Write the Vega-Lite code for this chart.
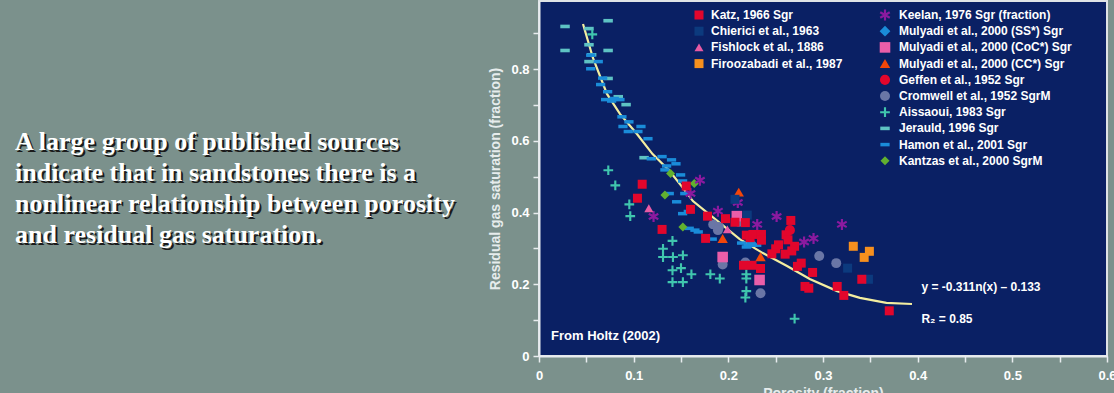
{
  "$schema": "https://vega.github.io/schema/vega-lite/v6.json",
  "background": "#7b918c",
  "padding": 0,
  "spacing": 0,
  "bounds": "flush",
  "config": {
    "font": "Liberation Sans",
    "view": {"stroke": null},
    "axis": {
      "grid": false,
      "domainColor": "#e8ecef",
      "domainWidth": 2,
      "tickColor": "#e8ecef",
      "tickWidth": 1.5,
      "tickSize": 6,
      "labelColor": "#ffffff",
      "labelFont": "Liberation Sans",
      "labelFontWeight": "bold",
      "labelFontSize": 13,
      "titleColor": "#e6ecec",
      "titleFont": "Liberation Sans",
      "titleFontWeight": "bold",
      "titleFontSize": 14
    },
    "legend": {
      "labelColor": "#ffffff",
      "labelFont": "Liberation Sans",
      "labelFontWeight": "bold",
      "labelFontSize": 12,
      "labelLimit": 400,
      "symbolSize": 64,
      "symbolStrokeWidth": 0,
      "rowPadding": 4.2,
      "padding": 0
    }
  },
  "datasets": {
    "para": [
      {"t": "A large group of published sources", "ln": 1, "c": 0},
      {"t": "indicate that in sandstones there is a", "ln": 2, "c": 0},
      {"t": "nonlinear relationship between porosity", "ln": 3, "c": 0},
      {"t": "and residual gas saturation.", "ln": 4, "c": 0}
    ],
    "curve": [
      {"x": 0.0465, "y": 0.926}, {"x": 0.057, "y": 0.831}, {"x": 0.0718, "y": 0.731},
      {"x": 0.0855, "y": 0.675}, {"x": 0.1035, "y": 0.619}, {"x": 0.12, "y": 0.563},
      {"x": 0.138, "y": 0.516}, {"x": 0.152, "y": 0.469}, {"x": 0.1626, "y": 0.432},
      {"x": 0.191, "y": 0.371}, {"x": 0.212, "y": 0.326}, {"x": 0.2365, "y": 0.287},
      {"x": 0.262, "y": 0.251}, {"x": 0.286, "y": 0.215}, {"x": 0.315, "y": 0.181},
      {"x": 0.339, "y": 0.162}, {"x": 0.367, "y": 0.148}, {"x": 0.394, "y": 0.145}
    ],
    "pts": [
      {"s": "Jerauld, 1996 Sgr", "x": 0.0275, "y": 0.919},
      {"s": "Jerauld, 1996 Sgr", "x": 0.073, "y": 0.935},
      {"s": "Jerauld, 1996 Sgr", "x": 0.0528, "y": 0.913},
      {"s": "Jerauld, 1996 Sgr", "x": 0.0275, "y": 0.852},
      {"s": "Jerauld, 1996 Sgr", "x": 0.073, "y": 0.852},
      {"s": "Jerauld, 1996 Sgr", "x": 0.0528, "y": 0.868},
      {"s": "Jerauld, 1996 Sgr", "x": 0.0556, "y": 0.84},
      {"s": "Jerauld, 1996 Sgr", "x": 0.0528, "y": 0.821},
      {"s": "Jerauld, 1996 Sgr", "x": 0.073, "y": 0.774},
      {"s": "Jerauld, 1996 Sgr", "x": 0.0837, "y": 0.723},
      {"s": "Jerauld, 1996 Sgr", "x": 0.092, "y": 0.701},
      {"s": "Jerauld, 1996 Sgr", "x": 0.111, "y": 0.553},
      {"s": "Hamon et al., 2001 Sgr", "x": 0.0546, "y": 0.839},
      {"s": "Hamon et al., 2001 Sgr", "x": 0.0626, "y": 0.821},
      {"s": "Hamon et al., 2001 Sgr", "x": 0.0546, "y": 0.801},
      {"s": "Hamon et al., 2001 Sgr", "x": 0.0672, "y": 0.775},
      {"s": "Hamon et al., 2001 Sgr", "x": 0.0651, "y": 0.757},
      {"s": "Hamon et al., 2001 Sgr", "x": 0.0725, "y": 0.737},
      {"s": "Hamon et al., 2001 Sgr", "x": 0.0704, "y": 0.715},
      {"s": "Hamon et al., 2001 Sgr", "x": 0.0795, "y": 0.718},
      {"s": "Hamon et al., 2001 Sgr", "x": 0.0855, "y": 0.715},
      {"s": "Hamon et al., 2001 Sgr", "x": 0.0767, "y": 0.711},
      {"s": "Hamon et al., 2001 Sgr", "x": 0.0876, "y": 0.667},
      {"s": "Hamon et al., 2001 Sgr", "x": 0.095, "y": 0.653},
      {"s": "Hamon et al., 2001 Sgr", "x": 0.0887, "y": 0.64},
      {"s": "Hamon et al., 2001 Sgr", "x": 0.1077, "y": 0.64},
      {"s": "Hamon et al., 2001 Sgr", "x": 0.0943, "y": 0.626},
      {"s": "Hamon et al., 2001 Sgr", "x": 0.1045, "y": 0.626},
      {"s": "Hamon et al., 2001 Sgr", "x": 0.1151, "y": 0.606},
      {"s": "Hamon et al., 2001 Sgr", "x": 0.1186, "y": 0.55},
      {"s": "Hamon et al., 2001 Sgr", "x": 0.13, "y": 0.556},
      {"s": "Hamon et al., 2001 Sgr", "x": 0.14, "y": 0.547},
      {"s": "Hamon et al., 2001 Sgr", "x": 0.1447, "y": 0.536},
      {"s": "Hamon et al., 2001 Sgr", "x": 0.1348, "y": 0.53},
      {"s": "Hamon et al., 2001 Sgr", "x": 0.133, "y": 0.519},
      {"s": "Hamon et al., 2001 Sgr", "x": 0.1496, "y": 0.505},
      {"s": "Hamon et al., 2001 Sgr", "x": 0.1517, "y": 0.488},
      {"s": "Hamon et al., 2001 Sgr", "x": 0.1376, "y": 0.453},
      {"s": "Hamon et al., 2001 Sgr", "x": 0.154, "y": 0.453},
      {"s": "Hamon et al., 2001 Sgr", "x": 0.1454, "y": 0.43},
      {"s": "Hamon et al., 2001 Sgr", "x": 0.1517, "y": 0.397},
      {"s": "Hamon et al., 2001 Sgr", "x": 0.1577, "y": 0.403},
      {"s": "Hamon et al., 2001 Sgr", "x": 0.1587, "y": 0.356},
      {"s": "Hamon et al., 2001 Sgr", "x": 0.1647, "y": 0.351},
      {"s": "Hamon et al., 2001 Sgr", "x": 0.1682, "y": 0.346},
      {"s": "Hamon et al., 2001 Sgr", "x": 0.183, "y": 0.326},
      {"s": "Hamon et al., 2001 Sgr", "x": 0.214, "y": 0.315},
      {"s": "Hamon et al., 2001 Sgr", "x": 0.219, "y": 0.304},
      {"s": "Hamon et al., 2001 Sgr", "x": 0.221, "y": 0.309},
      {"s": "Hamon et al., 2001 Sgr", "x": 0.226, "y": 0.309},
      {"s": "Hamon et al., 2001 Sgr", "x": 0.23, "y": 0.309},
      {"s": "Aissaoui, 1983 Sgr", "x": 0.0563, "y": 0.897},
      {"s": "Aissaoui, 1983 Sgr", "x": 0.0732, "y": 0.518},
      {"s": "Aissaoui, 1983 Sgr", "x": 0.0806, "y": 0.476},
      {"s": "Aissaoui, 1983 Sgr", "x": 0.0954, "y": 0.423},
      {"s": "Aissaoui, 1983 Sgr", "x": 0.0964, "y": 0.39},
      {"s": "Aissaoui, 1983 Sgr", "x": 0.141, "y": 0.321},
      {"s": "Aissaoui, 1983 Sgr", "x": 0.131, "y": 0.299},
      {"s": "Aissaoui, 1983 Sgr", "x": 0.131, "y": 0.276},
      {"s": "Aissaoui, 1983 Sgr", "x": 0.1415, "y": 0.276},
      {"s": "Aissaoui, 1983 Sgr", "x": 0.152, "y": 0.281},
      {"s": "Aissaoui, 1983 Sgr", "x": 0.141, "y": 0.239},
      {"s": "Aissaoui, 1983 Sgr", "x": 0.15, "y": 0.245},
      {"s": "Aissaoui, 1983 Sgr", "x": 0.161, "y": 0.228},
      {"s": "Aissaoui, 1983 Sgr", "x": 0.141, "y": 0.206},
      {"s": "Aissaoui, 1983 Sgr", "x": 0.152, "y": 0.206},
      {"s": "Aissaoui, 1983 Sgr", "x": 0.181, "y": 0.228},
      {"s": "Aissaoui, 1983 Sgr", "x": 0.191, "y": 0.216},
      {"s": "Aissaoui, 1983 Sgr", "x": 0.219, "y": 0.228},
      {"s": "Aissaoui, 1983 Sgr", "x": 0.219, "y": 0.216},
      {"s": "Aissaoui, 1983 Sgr", "x": 0.219, "y": 0.181},
      {"s": "Aissaoui, 1983 Sgr", "x": 0.218, "y": 0.163},
      {"s": "Aissaoui, 1983 Sgr", "x": 0.27, "y": 0.104},
      {"s": "Cromwell et al., 1952 SgrM", "x": 0.184, "y": 0.367},
      {"s": "Cromwell et al., 1952 SgrM", "x": 0.19, "y": 0.36},
      {"s": "Cromwell et al., 1952 SgrM", "x": 0.189, "y": 0.351},
      {"s": "Cromwell et al., 1952 SgrM", "x": 0.2115, "y": 0.374},
      {"s": "Cromwell et al., 1952 SgrM", "x": 0.194, "y": 0.255},
      {"s": "Cromwell et al., 1952 SgrM", "x": 0.218, "y": 0.261},
      {"s": "Cromwell et al., 1952 SgrM", "x": 0.234, "y": 0.175},
      {"s": "Cromwell et al., 1952 SgrM", "x": 0.296, "y": 0.279},
      {"s": "Cromwell et al., 1952 SgrM", "x": 0.314, "y": 0.259},
      {"s": "Kantzas et al., 2000 SgrM", "x": 0.139, "y": 0.509},
      {"s": "Kantzas et al., 2000 SgrM", "x": 0.164, "y": 0.481},
      {"s": "Kantzas et al., 2000 SgrM", "x": 0.133, "y": 0.449},
      {"s": "Kantzas et al., 2000 SgrM", "x": 0.152, "y": 0.36},
      {"s": "Keelan, 1976 Sgr (fraction)", "x": 0.17, "y": 0.49},
      {"s": "Keelan, 1976 Sgr (fraction)", "x": 0.16, "y": 0.453},
      {"s": "Keelan, 1976 Sgr (fraction)", "x": 0.121, "y": 0.389},
      {"s": "Keelan, 1976 Sgr (fraction)", "x": 0.189, "y": 0.404},
      {"s": "Keelan, 1976 Sgr (fraction)", "x": 0.21, "y": 0.428},
      {"s": "Keelan, 1976 Sgr (fraction)", "x": 0.2305, "y": 0.367},
      {"s": "Keelan, 1976 Sgr (fraction)", "x": 0.251, "y": 0.389},
      {"s": "Keelan, 1976 Sgr (fraction)", "x": 0.28, "y": 0.318},
      {"s": "Keelan, 1976 Sgr (fraction)", "x": 0.29, "y": 0.328},
      {"s": "Keelan, 1976 Sgr (fraction)", "x": 0.32, "y": 0.367},
      {"s": "Mulyadi et al., 2000 (SS*) Sgr", "x": 0.224, "y": 0.315},
      {"s": "Mulyadi et al., 2000 (CoC*) Sgr", "x": 0.209, "y": 0.39},
      {"s": "Mulyadi et al., 2000 (CoC*) Sgr", "x": 0.194, "y": 0.276},
      {"s": "Mulyadi et al., 2000 (CoC*) Sgr", "x": 0.233, "y": 0.212},
      {"s": "Mulyadi et al., 2000 (CC*) Sgr", "x": 0.211, "y": 0.457},
      {"s": "Mulyadi et al., 2000 (CC*) Sgr", "x": 0.194, "y": 0.328},
      {"s": "Mulyadi et al., 2000 (CC*) Sgr", "x": 0.234, "y": 0.277},
      {"s": "Geffen et al., 1952 Sgr", "x": 0.265, "y": 0.351},
      {"s": "Chierici et al., 1963", "x": 0.207, "y": 0.437},
      {"s": "Chierici et al., 1963", "x": 0.22, "y": 0.393},
      {"s": "Chierici et al., 1963", "x": 0.326, "y": 0.245},
      {"s": "Chierici et al., 1963", "x": 0.348, "y": 0.214},
      {"s": "Katz, 1966 Sgr", "x": 0.109, "y": 0.479},
      {"s": "Katz, 1966 Sgr", "x": 0.104, "y": 0.44},
      {"s": "Katz, 1966 Sgr", "x": 0.1555, "y": 0.474},
      {"s": "Katz, 1966 Sgr", "x": 0.16, "y": 0.409},
      {"s": "Katz, 1966 Sgr", "x": 0.13, "y": 0.353},
      {"s": "Katz, 1966 Sgr", "x": 0.178, "y": 0.39},
      {"s": "Katz, 1966 Sgr", "x": 0.197, "y": 0.383},
      {"s": "Katz, 1966 Sgr", "x": 0.176, "y": 0.328},
      {"s": "Katz, 1966 Sgr", "x": 0.207, "y": 0.373},
      {"s": "Katz, 1966 Sgr", "x": 0.216, "y": 0.253},
      {"s": "Katz, 1966 Sgr", "x": 0.219, "y": 0.337},
      {"s": "Katz, 1966 Sgr", "x": 0.218, "y": 0.372},
      {"s": "Katz, 1966 Sgr", "x": 0.223, "y": 0.33},
      {"s": "Katz, 1966 Sgr", "x": 0.226, "y": 0.339},
      {"s": "Katz, 1966 Sgr", "x": 0.235, "y": 0.339},
      {"s": "Katz, 1966 Sgr", "x": 0.235, "y": 0.323},
      {"s": "Katz, 1966 Sgr", "x": 0.225, "y": 0.253},
      {"s": "Katz, 1966 Sgr", "x": 0.234, "y": 0.244},
      {"s": "Katz, 1966 Sgr", "x": 0.266, "y": 0.378},
      {"s": "Katz, 1966 Sgr", "x": 0.261, "y": 0.338},
      {"s": "Katz, 1966 Sgr", "x": 0.263, "y": 0.324},
      {"s": "Katz, 1966 Sgr", "x": 0.253, "y": 0.31},
      {"s": "Katz, 1966 Sgr", "x": 0.27, "y": 0.306},
      {"s": "Katz, 1966 Sgr", "x": 0.25, "y": 0.299},
      {"s": "Katz, 1966 Sgr", "x": 0.246, "y": 0.285},
      {"s": "Katz, 1966 Sgr", "x": 0.26, "y": 0.284},
      {"s": "Katz, 1966 Sgr", "x": 0.267, "y": 0.293},
      {"s": "Katz, 1966 Sgr", "x": 0.277, "y": 0.259},
      {"s": "Katz, 1966 Sgr", "x": 0.273, "y": 0.25},
      {"s": "Katz, 1966 Sgr", "x": 0.289, "y": 0.233},
      {"s": "Katz, 1966 Sgr", "x": 0.281, "y": 0.194},
      {"s": "Katz, 1966 Sgr", "x": 0.285, "y": 0.189},
      {"s": "Katz, 1966 Sgr", "x": 0.315, "y": 0.194},
      {"s": "Katz, 1966 Sgr", "x": 0.322, "y": 0.169},
      {"s": "Katz, 1966 Sgr", "x": 0.341, "y": 0.214},
      {"s": "Katz, 1966 Sgr", "x": 0.37, "y": 0.126},
      {"s": "Fishlock et al., 1886", "x": 0.116, "y": 0.412},
      {"s": "Fishlock et al., 1886", "x": 0.199, "y": 0.353},
      {"s": "Firoozabadi et al., 1987", "x": 0.332, "y": 0.306},
      {"s": "Firoozabadi et al., 1987", "x": 0.349, "y": 0.292},
      {"s": "Firoozabadi et al., 1987", "x": 0.3435, "y": 0.275}
    ],
    "notes13": [
      {"t": "From Holtz (2002)", "x": 0.0127, "y": 0.045}
    ],
    "notes12": [
      {"t": "y = -0.311n(x) – 0.133", "x": 0.404, "y": 0.192},
      {"t": "R₂ = 0.85", "x": 0.404, "y": 0.103}
    ]
  },
  "hconcat": [
    {
      "width": 539,
      "height": 355,
      "view": {"stroke": null},
      "data": {"name": "para"},
      "layer": [
        {
          "mark": {"type": "text", "font": "Liberation Serif", "fontWeight": "bold", "fontSize": 26, "align": "left", "baseline": "alphabetic", "color": "#1a1a1a", "dx": 2, "dy": 2},
          "encoding": {
            "x": {"field": "c", "type": "quantitative", "scale": {"domain": [-15, 524]}, "axis": null},
            "y": {"field": "ln", "type": "quantitative", "scale": {"domain": [-3.781, 7.634], "reverse": true}, "axis": null},
            "text": {"field": "t"}
          }
        },
        {
          "mark": {"type": "text", "font": "Liberation Serif", "fontWeight": "bold", "fontSize": 26, "align": "left", "baseline": "alphabetic", "color": "#ffffff"},
          "encoding": {
            "x": {"field": "c", "type": "quantitative", "scale": {"domain": [-15, 524]}, "axis": null},
            "y": {"field": "ln", "type": "quantitative", "scale": {"domain": [-3.781, 7.634], "reverse": true}, "axis": null},
            "text": {"field": "t"}
          }
        }
      ]
    },
    {
      "width": 568,
      "height": 355,
      "view": {"fill": "#0a2064", "stroke": "#dfe3e6", "strokeWidth": 2},
      "encoding": {
        "x": {
          "field": "x", "type": "quantitative",
          "scale": {"domain": [0, 0.6], "nice": false, "zero": false},
          "axis": {
            "title": "Porosity (fraction)",
            "values": [0, 0.05, 0.1, 0.15, 0.2, 0.25, 0.3, 0.35, 0.4, 0.45, 0.5, 0.55, 0.6],
            "labelExpr": "round(datum.value*100) % 10 === 0 ? datum.label : ''",
            "format": "~g",
            "labelPadding": 7,
            "titlePadding": 4,
            "labelFlush": false
          }
        },
        "y": {
          "field": "y", "type": "quantitative",
          "scale": {"domain": [0, 0.99], "nice": false, "zero": false},
          "axis": {
            "title": "Residual gas saturation (fraction)",
            "values": [0, 0.1, 0.2, 0.3, 0.4, 0.5, 0.6, 0.7, 0.8, 0.9],
            "labelExpr": "round(datum.value*10) % 2 === 0 ? datum.label : ''",
            "format": "~g",
            "labelPadding": 4,
            "titlePadding": 8,
            "labelFlush": false
          }
        }
      },
      "layer": [
        {
          "data": {"name": "curve"},
          "mark": {"type": "line", "color": "#f4eea0", "strokeWidth": 2.2},
          "encoding": {}
        },
        {
          "data": {"name": "pts"},
          "transform": [{"filter": {"not": {"field": "s", "oneOf": ["Katz, 1966 Sgr", "Chierici et al., 1963", "Fishlock et al., 1886", "Firoozabadi et al., 1987"]}}}],
          "mark": {"type": "point", "filled": true, "opacity": 1, "strokeWidth": 0},
          "encoding": {
            "color": {
              "field": "s", "type": "nominal",
              "scale": {
                "domain": ["Keelan, 1976 Sgr (fraction)", "Mulyadi et al., 2000 (SS*) Sgr", "Mulyadi et al., 2000 (CoC*) Sgr", "Mulyadi et al., 2000 (CC*) Sgr", "Geffen et al., 1952 Sgr", "Cromwell et al., 1952 SgrM", "Aissaoui, 1983 Sgr", "Jerauld, 1996 Sgr", "Hamon et al., 2001 Sgr", "Kantzas et al., 2000 SgrM"],
                "range": ["#8b1a9f", "#1a8cd8", "#ea5ea9", "#f2460a", "#e2062c", "#6a76a6", "#40c6ae", "#5ec3c4", "#1a8cd9", "#62b02f"]
              },
              "legend": {"orient": "none", "legendX": 340, "legendY": 8, "title": null, "labelOffset": 8}
            },
            "shape": {
              "field": "s", "type": "nominal",
              "scale": {
                "domain": ["Keelan, 1976 Sgr (fraction)", "Mulyadi et al., 2000 (SS*) Sgr", "Mulyadi et al., 2000 (CoC*) Sgr", "Mulyadi et al., 2000 (CC*) Sgr", "Geffen et al., 1952 Sgr", "Cromwell et al., 1952 SgrM", "Aissaoui, 1983 Sgr", "Jerauld, 1996 Sgr", "Hamon et al., 2001 Sgr", "Kantzas et al., 2000 SgrM"],
                "range": ["M-0.2,-1V1H0.2V-1ZM0.766,0.673L0.966,0.327L-0.766,-0.673L-0.966,-0.327ZM-0.966,0.327L-0.766,0.673L0.966,-0.327L0.766,-0.673Z", "diamond", "square", "triangle-up", "circle", "circle", "M-0.22,-1H0.22V-0.22H1V0.22H0.22V1H-0.22V0.22H-1V-0.22H-0.22Z", "M-1,-0.38H1V0.38H-1Z", "M-1,-0.38H1V0.38H-1Z", "diamond"]
              }
            },
            "size": {
              "field": "s", "type": "nominal",
              "scale": {
                "domain": ["Keelan, 1976 Sgr (fraction)", "Mulyadi et al., 2000 (SS*) Sgr", "Mulyadi et al., 2000 (CoC*) Sgr", "Mulyadi et al., 2000 (CC*) Sgr", "Geffen et al., 1952 Sgr", "Cromwell et al., 1952 SgrM", "Aissaoui, 1983 Sgr", "Jerauld, 1996 Sgr", "Hamon et al., 2001 Sgr", "Kantzas et al., 2000 SgrM"],
                "range": [121, 81, 81, 100, 72, 72, 100, 169, 169, 81]
              },
              "legend": null
            }
          }
        },
        {
          "data": {"name": "pts"},
          "transform": [{"filter": {"field": "s", "oneOf": ["Katz, 1966 Sgr", "Chierici et al., 1963", "Fishlock et al., 1886", "Firoozabadi et al., 1987"]}}],
          "mark": {"type": "point", "filled": true, "opacity": 1, "strokeWidth": 0},
          "encoding": {
            "color": {
              "field": "s", "type": "nominal",
              "scale": {
                "domain": ["Katz, 1966 Sgr", "Chierici et al., 1963", "Fishlock et al., 1886", "Firoozabadi et al., 1987"],
                "range": ["#e2062c", "#0c3a7e", "#e85aa4", "#f7901e"]
              },
              "legend": {"orient": "none", "legendX": 154, "legendY": 8, "title": null, "labelOffset": 6}
            },
            "shape": {
              "field": "s", "type": "nominal",
              "scale": {
                "domain": ["Katz, 1966 Sgr", "Chierici et al., 1963", "Fishlock et al., 1886", "Firoozabadi et al., 1987"],
                "range": ["square", "square", "triangle-up", "square"]
              }
            },
            "size": {
              "field": "s", "type": "nominal",
              "scale": {
                "domain": ["Katz, 1966 Sgr", "Chierici et al., 1963", "Fishlock et al., 1886", "Firoozabadi et al., 1987"],
                "range": [81, 81, 100, 81]
              },
              "legend": null
            }
          }
        },
        {
          "data": {"name": "notes13"},
          "mark": {"type": "text", "align": "left", "baseline": "alphabetic", "font": "Liberation Sans", "fontWeight": "bold", "fontSize": 13, "color": "#ffffff"},
          "encoding": {"text": {"field": "t"}}
        },
        {
          "data": {"name": "notes12"},
          "mark": {"type": "text", "align": "left", "baseline": "middle", "font": "Liberation Sans", "fontWeight": "bold", "fontSize": 12, "color": "#ffffff"},
          "encoding": {"text": {"field": "t"}}
        }
      ],
      "resolve": {"scale": {"color": "independent", "shape": "independent", "size": "independent"}}
    }
  ]
}
